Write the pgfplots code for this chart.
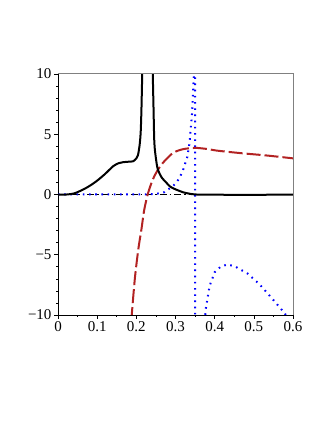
\documentclass[border=0pt]{standalone}
\usepackage{fontspec}
\setmainfont{Liberation Serif}
\usepackage{pgfplots}
\pgfplotsset{compat=1.18}
\definecolor{mapleRed}{RGB}{178,34,34}
\definecolor{mapleBlue}{RGB}{0,0,255}
\begin{document}
\begin{tikzpicture}[x=1pt,y=1pt]
\useasboundingbox (0,0) rectangle (327,423);
\begin{axis}[
    name=ax,
    at={(58pt,108pt)}, anchor=south west,
    scale only axis, width=235pt, height=241pt,
    xmin=0, xmax=0.6, ymin=-10, ymax=10,
    axis x line*=bottom, axis y line*=left,
    axis line style={-, black, line width=0.8pt},
    tick align=outside,
    xtick={0,0.1,0.2,0.3,0.4,0.5,0.6},
    xticklabels={0,0.1,0.2,0.3,0.4,0.5,0.6},
    ytick={-10,-5,0,5,10},
    yticklabels={−10,−5,0,5,10},
    minor x tick num=1, minor y tick num=4,
    major tick length=4pt, minor tick length=2pt,
    tick style={black, line width=0.6pt},
    ticklabel style={font=\fontsize{15}{17}\selectfont},
    xticklabel style={yshift=1pt},
    yticklabel style={xshift=1pt},
]
% black dash-dot zero line
\addplot[black, line width=1.3pt, dash pattern=on 7pt off 3pt on 1.5pt off 3pt]
  coordinates {(0,0)(0.6,0)};
% blue dotted
\addplot[mapleBlue, line width=2pt, dash pattern=on 1.6pt off 4.6pt] coordinates {
  (0,0)(0.1,0)(0.2,0)(0.24,0.03)(0.26,0.1)(0.272,0.2)(0.28,0.4)(0.29,0.6)(0.30,0.9)
  (0.31,1.35)(0.32,2.1)(0.33,3.1)(0.336,4.3)(0.343,7)(0.347,10)(0.349,12)
  (0.35,12)(0.35,-12)};
\addplot[mapleBlue, line width=2pt, dash pattern=on 1.6pt off 4.6pt] coordinates {
  (0.375,-10.5)(0.377,-9.54)(0.387,-7.6)(0.40,-6.45)(0.415,-6.0)(0.432,-5.81)
  (0.451,-5.95)(0.485,-6.58)(0.515,-7.47)(0.545,-8.57)(0.58,-9.9)(0.584,-10.5)};
% brown dashed
\addplot[mapleRed, line width=2pt, dash pattern=on 14pt off 4pt, smooth] coordinates {
  (0.187,-10.5)(0.196,-7.05)(0.205,-4.56)(0.213,-2.9)(0.22,-1.3)(0.229,0)(0.238,0.9)
  (0.246,1.52)(0.257,2.15)(0.268,2.63)(0.28,3.05)(0.294,3.46)(0.31,3.68)(0.324,3.79)
  (0.34,3.85)(0.353,3.87)(0.38,3.78)(0.404,3.65)(0.44,3.52)(0.477,3.40)(0.532,3.24)
  (0.6,3.0)};
% black solid
\addplot[black, line width=2pt, smooth] coordinates {
  (0,0)(0.022,0.0)(0.04,0.08)(0.055,0.27)(0.075,0.6)(0.098,1.1)(0.12,1.7)(0.141,2.35)
  (0.155,2.6)(0.166,2.68)(0.18,2.72)(0.192,2.76)(0.2,3.0)(0.204,3.25)(0.208,4.0)
  (0.211,5.1)(0.213,7)(0.215,10)(0.216,12)};
\addplot[black, line width=2pt, smooth] coordinates {
  (0.241,12)(0.242,10)(0.244,7)(0.246,4.3)(0.25,3.0)(0.255,2.07)(0.265,1.4)(0.277,0.97)
  (0.285,0.69)(0.295,0.5)(0.306,0.35)(0.319,0.19)(0.335,0.07)(0.353,0.0)(0.4,-0.02)
  (0.6,-0.02)};
\end{axis}
\draw[gray, line width=1pt] (ax.north west) -- (ax.north east) -- (ax.south east);
\end{tikzpicture}
\end{document}
